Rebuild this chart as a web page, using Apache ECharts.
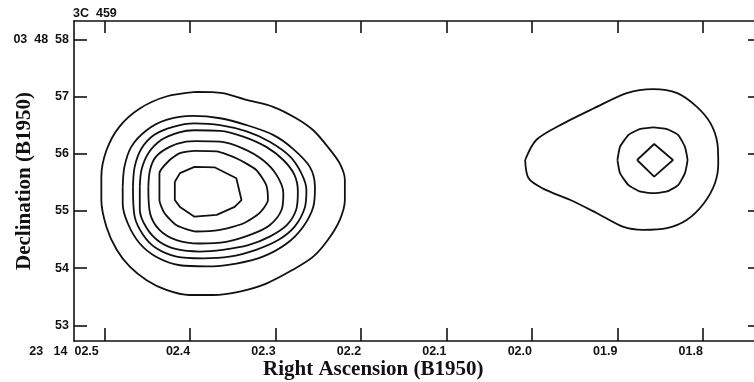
<!DOCTYPE html>
<html>
<head>
<meta charset="utf-8">
<title>3C 459</title>
<script src="https://cdn.jsdelivr.net/npm/echarts@6/dist/echarts.min.js"></script>
<style>
  html, body { margin: 0; padding: 0; background: #fff; }
  #chart { width: 754px; height: 382px; }
</style>
</head>
<body>
<div id="chart"></div>
<script>
// Axis ticks and labels (RA in seconds of time after 23h14m, Dec in arcsec after 03°48')
const raTicks = [2.5, 2.4, 2.3, 2.2, 2.1, 2.0, 1.9, 1.8];
const raLabels = ['23   14  02.5', '02.4', '02.3', '02.2', '02.1', '02.0', '01.9', '01.8'];
const decTicks = [53, 54, 55, 56, 57, 58];
const decLabels = ['53', '54', '55', '56', '57', '03  48  58'];

// Contour rings, [RA, Dec]; western component, outermost to innermost
const west1 = [[2.393,57.08],[2.362,57.06],[2.334,56.94],[2.303,56.82],[2.276,56.62],[2.256,56.41],[2.239,56.12],[2.225,55.83],[2.219,55.54],[2.219,55.19],[2.225,54.84],[2.239,54.49],[2.256,54.20],[2.280,53.97],[2.311,53.73],[2.342,53.59],[2.373,53.53],[2.401,53.53],[2.428,53.62],[2.451,53.79],[2.471,54.03],[2.486,54.32],[2.498,54.72],[2.504,55.19],[2.504,55.60],[2.498,56.06],[2.483,56.47],[2.459,56.79],[2.428,57.00]];
const west2 = [[2.479,55.42],[2.477,55.77],[2.469,56.12],[2.451,56.41],[2.428,56.59],[2.397,56.66],[2.365,56.62],[2.334,56.50],[2.303,56.33],[2.280,56.09],[2.260,55.77],[2.254,55.42],[2.256,55.07],[2.268,54.72],[2.287,54.43],[2.315,54.20],[2.346,54.08],[2.381,54.03],[2.412,54.05],[2.440,54.20],[2.459,54.43],[2.473,54.78],[2.479,55.13]];
const west3 = [[2.467,55.42],[2.465,55.77],[2.457,56.09],[2.442,56.33],[2.420,56.47],[2.395,56.53],[2.365,56.50],[2.334,56.39],[2.307,56.21],[2.283,55.95],[2.270,55.66],[2.264,55.37],[2.266,55.05],[2.278,54.72],[2.297,54.49],[2.323,54.32],[2.354,54.20],[2.385,54.17],[2.416,54.20],[2.440,54.35],[2.455,54.58],[2.465,54.90]];
const west4 = [[2.459,55.42],[2.457,55.72],[2.449,56.01],[2.434,56.24],[2.414,56.37],[2.395,56.41],[2.365,56.40],[2.338,56.30],[2.311,56.12],[2.291,55.89],[2.278,55.63],[2.274,55.34],[2.276,55.02],[2.287,54.75],[2.307,54.55],[2.332,54.40],[2.362,54.32],[2.389,54.29],[2.416,54.33],[2.436,54.46],[2.451,54.70],[2.459,55.02]];
const west5 = [[2.449,55.42],[2.447,55.72],[2.440,55.95],[2.424,56.12],[2.405,56.21],[2.393,56.22],[2.365,56.21],[2.338,56.09],[2.315,55.89],[2.299,55.63],[2.291,55.31],[2.293,55.02],[2.307,54.75],[2.330,54.58],[2.358,54.46],[2.389,54.43],[2.416,54.49],[2.436,54.67],[2.447,54.96]];
const west6 = [[2.436,55.42],[2.436,55.66],[2.424,55.89],[2.412,56.01],[2.395,56.05],[2.369,56.04],[2.346,55.92],[2.323,55.72],[2.311,55.45],[2.309,55.19],[2.319,54.96],[2.338,54.78],[2.365,54.67],[2.393,54.64],[2.416,54.75],[2.430,54.96],[2.436,55.19]];
const west7 = [[2.418,55.51],[2.412,55.66],[2.395,55.77],[2.371,55.76],[2.346,55.57],[2.340,55.19],[2.348,55.07],[2.369,54.93],[2.395,54.90],[2.412,55.07],[2.418,55.19]];

// Eastern component
const east1 = [[2.008,55.89],[1.995,56.24],[1.963,56.53],[1.928,56.79],[1.889,57.06],[1.858,57.13],[1.830,57.06],[1.807,56.82],[1.791,56.53],[1.783,56.18],[1.782,55.83],[1.786,55.48],[1.799,55.13],[1.819,54.84],[1.842,54.70],[1.870,54.67],[1.893,54.72],[1.924,54.96],[1.955,55.19],[1.987,55.39],[2.004,55.57]];
const east2 = [[1.900,55.89],[1.897,56.12],[1.887,56.33],[1.874,56.43],[1.858,56.46],[1.842,56.43],[1.829,56.33],[1.821,56.12],[1.818,55.89],[1.821,55.66],[1.829,55.45],[1.842,55.34],[1.858,55.31],[1.874,55.34],[1.887,55.45],[1.897,55.66]];
const east3 = [[1.877,55.89],[1.857,56.17],[1.835,55.89],[1.857,55.60]];

const rings = [
  { data: west1, smooth: 0.3 }, { data: west2, smooth: 0.3 }, { data: west3, smooth: 0.3 },
  { data: west4, smooth: 0.3 }, { data: west5, smooth: 0.3 }, { data: west6, smooth: 0.2 },
  { data: west7, smooth: false },
  { data: east1, smooth: 0.3 }, { data: east2, smooth: 0.15 }, { data: east3, smooth: false }
];

const INK = '#111111';
const SANS = '"Liberation Sans", Arial, sans-serif';
const SERIF = '"Liberation Serif", "Times New Roman", serif';

function pick(ticks, labels, firstStyle) {
  return function (v) {
    const i = ticks.findIndex(function (t) { return Math.abs(t - v) < 1e-6; });
    if (i < 0) return '';
    return (i === 0 && firstStyle) ? '{' + firstStyle + '|' + labels[i] + '}' : labels[i];
  };
}

const lineStyle = { color: INK, width: 1.6 };
const tickStyle = { color: INK, width: 1.6 };
const labelStyle = { color: INK, fontFamily: SANS, fontWeight: 'bold', fontSize: 12.5 };

const raRange = { min: 1.739, max: 2.536 };
const decRange = { min: 52.726, max: 58.32 };

const chart = echarts.init(document.getElementById('chart'), null, { renderer: 'canvas' });
chart.setOption({
  animation: false,
  backgroundColor: '#ffffff',
  title: [
    { text: '3C  459', left: 73, top: 7, padding: 0,
      textStyle: { color: INK, fontFamily: SANS, fontWeight: 'bold', fontSize: 12.5 } },
    { text: 'Right Ascension (B1950)', left: 263, top: 359, padding: 0,
      textStyle: { color: INK, fontFamily: SERIF, fontWeight: 'bold', fontSize: 21 } }
  ],
  grid: { left: 74, right: -1, top: 21, bottom: 41, containLabel: false, outerBoundsMode: 'none' },
  xAxis: [
    {
      type: 'value', position: 'bottom', inverse: true,
      min: raRange.min, max: raRange.max,
      axisLine: { lineStyle: lineStyle },
      axisTick: { inside: true, length: 13, customValues: raTicks, lineStyle: tickStyle },
      axisLabel: Object.assign({ customValues: raTicks, formatter: pick(raTicks, raLabels, 'first'),
        align: 'right', margin: 4,
        rich: { first: Object.assign({ padding: [0, 6, 0, 0] }, labelStyle) } }, labelStyle),
      splitLine: { show: false }
    },
    {
      type: 'value', position: 'top', inverse: true,
      min: raRange.min, max: raRange.max,
      axisLine: { lineStyle: lineStyle },
      axisTick: { inside: true, length: 12, customValues: raTicks, lineStyle: tickStyle },
      axisLabel: { show: false },
      splitLine: { show: false }
    }
  ],
  yAxis: [
    {
      type: 'value', position: 'left',
      min: decRange.min, max: decRange.max,
      name: 'Declination (B1950)', nameLocation: 'middle', nameGap: 39,
      nameMoveOverlap: false,
      nameTextStyle: { color: INK, fontFamily: SERIF, fontWeight: 'bold', fontSize: 21 },
      axisLine: { lineStyle: lineStyle },
      axisTick: { inside: true, length: 13, customValues: decTicks, lineStyle: tickStyle },
      axisLabel: Object.assign({ customValues: decTicks, formatter: pick(decTicks, decLabels),
        margin: 5 }, labelStyle),
      splitLine: { show: false }
    },
    {
      type: 'value', position: 'right',
      min: decRange.min, max: decRange.max,
      axisLine: { lineStyle: lineStyle },
      axisTick: { inside: true, length: 7, customValues: decTicks, lineStyle: tickStyle },
      axisLabel: { show: false },
      splitLine: { show: false }
    }
  ],
  series: rings.map(function (r) {
    return {
      type: 'line',
      xAxisIndex: 0, yAxisIndex: 0,
      data: r.data.concat([r.data[0]]),
      smooth: r.smooth,
      showSymbol: false,
      symbol: 'none',
      silent: true,
      lineStyle: { color: INK, width: 1.8 }
    };
  })
});
</script>
</body>
</html>
